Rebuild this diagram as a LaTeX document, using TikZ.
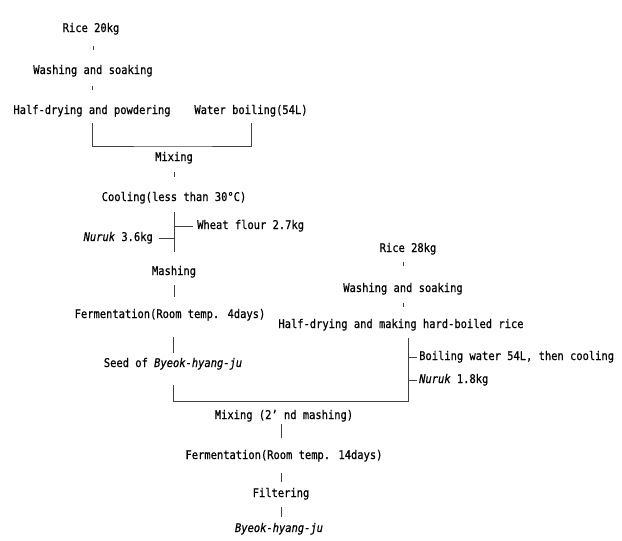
\documentclass[tikz,border=0pt]{standalone}
\usepackage{fontspec}
\setmainfont[FakeStretch=0.87,FakeBold=0.6,ItalicFont={DejaVu Sans Mono Oblique}]{DejaVu Sans Mono}
\begin{document}
\begin{tikzpicture}[x=1pt,y=-1pt,
  lbl/.style={inner sep=0pt,text height=9pt,text depth=3pt,font=\fontsize{12}{14}\selectfont},
  ln/.style={draw=black!75,line width=0.6pt}]
\useasboundingbox (0,0) rectangle (622,541);
% left branch
\node[lbl] (r1) at (91,29) {Rice 20kg};
\node[lbl] (w1) at (93,71) {Washing and soaking};
\node[lbl] (h1) at (92,111) {Half-drying and powdering};
\node[lbl] (wb) at (251,111) {Water boiling(54L)};
\node[lbl] (mix1) at (174,158) {Mixing};
\node[lbl] (cool) at (174,198) {Cooling(less than 30°C)};
\node[lbl,anchor=west] (wf) at (197,226) {Wheat flour 2.7kg};
\node[lbl,anchor=east] (nk) at (153,238) {\textit{Nuruk} 3.6kg};
\node[lbl] (mash) at (174,272) {Mashing};
\node[lbl] (ferm1) at (170,315) {Fermentation(Room temp. 4days)};
\node[lbl] (seed) at (173,364) {Seed of \textit{Byeok-hyang-ju}};
% right branch
\node[lbl] (r2) at (408,249) {Rice 28kg};
\node[lbl] (w2) at (403,289) {Washing and soaking};
\node[lbl] (h2) at (401,325) {Half-drying and making hard-boiled rice};
\node[lbl,anchor=west] (bw) at (419,357) {Boiling water 54L, then cooling};
\node[lbl,anchor=west] (nk2) at (419,380) {\textit{Nuruk} 1.8kg};
% merge
\node[lbl] (mix2) at (284,416) {Mixing (2’ nd mashing)};
\node[lbl] (ferm2) at (284,456) {Fermentation(Room temp. 14days)};
\node[lbl] (filt) at (281,494) {Filtering};
\node[lbl] (byeok) at (279,529) {\textit{Byeok-hyang-ju}};
\coordinate (b1) at (174,146);
\coordinate (b2) at (408,401);
% connectors
\draw[ln,shorten <=11pt,shorten >=15pt] (r1.south -| w1) -- (w1.north);
\draw[ln,shorten <=9pt,shorten >=15pt] (w1.south -| h1) -- (h1.north);
\draw[ln,shorten <=6pt,shorten >=6pt] (h1.south) |- (b1) -| (wb.south);
\draw[ln,shorten <=8pt,shorten >=15pt] (mix1.south) -- (cool.north);
\draw[ln,shorten <=8pt,shorten >=14pt] (cool.south) -- (mash.north);
\draw[ln,shorten <=4pt] (wf.west) -- (wf.west -| cool.south);
\draw[ln,shorten <=6pt] (nk.east) -- (nk.east -| cool.south);
\draw[ln,shorten <=7pt,shorten >=12pt] (mash.south) -- (mash.south |- ferm1.north);
\draw[ln,shorten <=16pt,shorten >=5pt] (ferm1.south -| seed) -- (seed.north);
\draw[ln,shorten <=15pt,shorten >=7pt] (seed.south) |- (b2) -- (b2 |- h2.south);
\draw[ln,shorten <=7pt,shorten >=17pt] (r2.south -| w2) -- (w2.north);
\draw[ln,shorten <=8pt,shorten >=12pt] (w2.south) -- (w2.south |- h2.north);
\draw[ln,shorten <=2pt] (bw.west) -- (bw.west -| b2);
\draw[ln,shorten <=2pt] (nk2.west) -- (nk2.west -| b2);
\draw[ln,shorten <=2pt,shorten >=12pt] (mix2.south -| filt) -- (filt |- ferm2.north);
\draw[ln,shorten <=11pt,shorten >=6pt] (ferm2.south -| filt) -- (filt.north);
\draw[ln,shorten <=7pt,shorten >=6pt] (filt.south) -- (filt.south |- byeok.north);
\end{tikzpicture}
\end{document}
